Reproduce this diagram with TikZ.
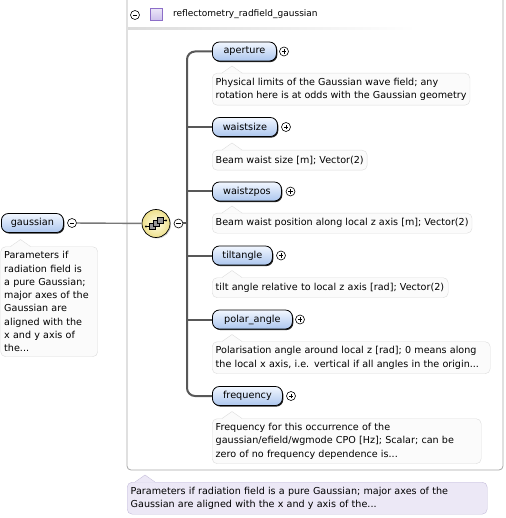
\documentclass[tikz,border=0pt]{standalone}
\usepackage{fontspec}
\setmainfont{DejaVu Sans}
\usetikzlibrary{shadows,calc}
\definecolor{elemtop}{RGB}{242,247,255}
\definecolor{elembot}{RGB}{172,198,238}
\definecolor{treegray}{RGB}{88,88,88}
\definecolor{linkgray}{RGB}{120,120,120}
\definecolor{notefill}{RGB}{251,251,251}
\definecolor{noteline}{RGB}{220,220,220}
\definecolor{lavfill}{RGB}{236,232,246}
\definecolor{lavline}{RGB}{196,188,218}
\definecolor{seqin}{RGB}{255,253,228}
\definecolor{seqout}{RGB}{238,224,140}
\definecolor{boxline}{RGB}{168,168,168}
\definecolor{iconfill}{RGB}{204,192,236}
\definecolor{iconline}{RGB}{140,110,200}

% pointer on top of a note
\newcommand{\notetip}[4]{%
  \fill[#2] ($(#1.north west)+(#3,0.6)$) -- ($(#1.north west)+(#3+10,-7)$) -- ($(#1.north west)+(#3+20,0.6)$);
  \draw[#4] ($(#1.north west)+(#3,0)$) -- ($(#1.north west)+(#3+10,-7)$) -- ($(#1.north west)+(#3+20,0)$);}

\begin{document}
\begin{tikzpicture}[
  x=1pt, y=-1pt,
  elem/.style={
    draw=black,
    line width=0.8pt,
    rounded corners=7pt,
    top color=elemtop,
    bottom color=elembot,
    minimum height=19pt,
    inner sep=0pt,
    anchor=west,
    font=\fontsize{9.7}{11}\selectfont,
    drop shadow={shadow xshift=0.9pt, shadow yshift=-1.1pt, fill=black, opacity=0.85}
  },
  note/.style={
    draw=noteline,
    fill=notefill,
    rounded corners=5pt,
    anchor=north west,
    align=left,
    inner xsep=3.5pt,
    inner ysep=1.5pt,
    font=\fontsize{9.6}{13.3}\selectfont
  },
  toggle/.style={
    circle, draw=black, fill=white,
    line width=0.6pt,
    minimum size=9pt,
    inner sep=0pt,
    path picture={\draw[line width=0.6pt]
      ($(path picture bounding box.center)+(-2.4pt,0)$) -- ++(4.8pt,0);}
  },
  toggleplus/.style={
    toggle,
    append after command={
      (\tikzlastnode.center) ++(0,-2.4pt) edge[line width=0.6pt] ++(0,4.8pt)}
  },
  tree/.style={draw=treegray, line width=2pt},
  link/.style={draw=linkgray, line width=1.4pt}
]
\useasboundingbox (0,0) rectangle (505,518);

% -------- Outer group --------
\draw[boxline, line width=0.8pt, rounded corners=4pt] (127,-5) -- (127,470) -- (503,470) -- (503,-5);

\node[toggle] (hdrtoggle) at (135,15) {};
\node[draw=iconline, line width=0.6pt, top color=iconfill!40, bottom color=iconfill,
  minimum size=12pt, inner sep=0pt] (hdricon) at (156,14.5) {};
\node[anchor=west, inner sep=0pt, font=\fontsize{9}{11}\selectfont] (hdrname) at (173,14.5)
{reflectometry\_radfield\_gaussian};
\shade[left color=black!14, right color=white] (128,27.5) rectangle (415,29.2);

% -------- Parent element --------
\node[elem, minimum width=62] (gaussian) at (1,223) {gaussian};
\node[toggle] (gaussiantoggle) at (72,223) {};

\node[note, text width=90, minimum height=110] (gaussiannote) at (0.5,246.5)
{Parameters if\\radiation field is\\a pure Gaussian;\\major axes of the\\Gaussian are\\aligned with the\\x and y axis of\\the...};
\notetip{gaussiannote}{notefill}{10}{noteline}

% -------- Sequence --------
\node[circle, draw=black, line width=0.7pt, inner color=seqin, outer color=seqout,
  minimum size=28pt, inner sep=0pt,
  drop shadow={shadow xshift=1pt, shadow yshift=-1pt, opacity=0.4}] (seq) at (156,223.5) {};
\begin{scope}[shift={(seq.center)}, line width=0.5pt]
  \draw (-10,3) -- (-6,3);
  \draw (6,-3) -- (10,-3);
  \fill (-10,3) circle (1.1);
  \fill (10,-3) circle (1.1);
  \foreach \dx/\dy in {-4/3, 0/0, 4/-3}
    \filldraw[fill=black!40, draw=black] (\dx-3,\dy-3) rectangle (\dx+3,\dy+3);
\end{scope}
\node[toggle] (seqtoggle) at (178.5,223.5) {};

\draw[link] (gaussiantoggle) -- (seq);

% -------- Children --------
\node[elem, minimum width=64] (aperture) at (212,51.5) {aperture};
\node[toggleplus] (aperturetoggle) at (284,51.5) {};
\node[note, minimum height=32] (aperturenote) at (212,73)
{Physical limits of the Gaussian wave field; any\\rotation here is at odds with the Gaussian geometry};
\notetip{aperturenote}{notefill}{10}{noteline}

\node[elem, minimum width=65] (waistsize) at (212,127) {waistsize};
\node[toggleplus] (waistsizetoggle) at (286,127) {};
\node[note, minimum height=20] (waistsizenote) at (212,150)
{Beam waist size [m]; Vector(2)};
\notetip{waistsizenote}{notefill}{10}{noteline}

\node[elem, minimum width=69] (waistzpos) at (212,191.5) {waistzpos};
\node[toggleplus] (waistzpostoggle) at (290.5,191.5) {};
\node[note, minimum height=20] (waistzposnote) at (212,213)
{Beam waist position along local z axis [m]; Vector(2)};
\notetip{waistzposnote}{notefill}{10}{noteline}

\node[elem, minimum width=60] (tiltangle) at (212,255.5) {tiltangle};
\node[toggleplus] (tiltangletoggle) at (281,255.5) {};
\node[note, text width=229, minimum height=20] (tiltanglenote) at (212,277.5)
{tilt angle relative to local z axis [rad]; Vector(2)};
\notetip{tiltanglenote}{notefill}{10}{noteline}

\node[elem, minimum width=80] (polar_angle) at (212,319.5) {polar\_angle};
\node[toggleplus] (polar_angletoggle) at (300,319.5) {};
\node[note, text width=271, minimum height=32] (polar_anglenote) at (212,341.5)
{Polarisation angle around local z [rad]; 0 means along\\the local x axis, i.e. vertical if all angles in the origin...};
\notetip{polar_anglenote}{notefill}{10}{noteline}

\node[elem, minimum width=70] (frequency) at (212,396) {frequency};
\node[toggleplus] (frequencytoggle) at (291,396) {};
\node[note, text width=262, minimum height=45] (frequencynote) at (212,418.5)
{Frequency for this occurrence of the\\gaussian/efield/wgmode CPO [Hz]; Scalar; can be\\zero of no frequency dependence is...};
\notetip{frequencynote}{notefill}{10}{noteline}

% -------- Tree lines --------
\coordinate (trunk) at (187,223.5);
\draw[tree, rounded corners=8pt] (aperture.west) -| (trunk) |- (frequency.west);
\foreach \n in {waistsize, waistzpos, tiltangle, polar_angle}
  \draw[tree] (\n.west) -- (\n.west -| trunk);
\draw[tree] (seqtoggle) -- (trunk);

% -------- Group note --------
\node[note, draw=lavline, fill=lavfill, text width=353, minimum height=32] (groupnote) at (127,482)
{Parameters if radiation field is a pure Gaussian; major axes of the\\Gaussian are aligned with the x and y axis of the...};
\notetip{groupnote}{lavfill}{8}{lavline}

\end{tikzpicture}
\end{document}
